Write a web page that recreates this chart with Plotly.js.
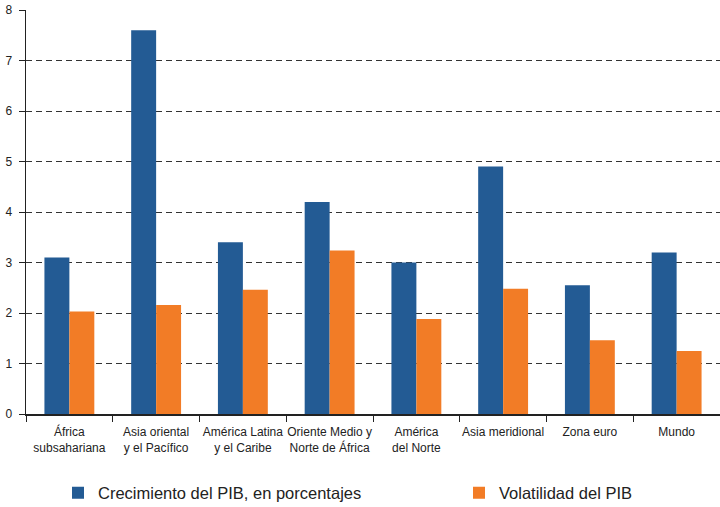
<!DOCTYPE html>
<html><head><meta charset="utf-8">
<script src="https://cdn.plot.ly/plotly-3.0.1.min.js"></script>
<style>html,body{margin:0;padding:0;background:#fff}#c{width:720px;height:507px}</style>
</head><body><div id="c"></div>
<script>
const categories = ["África<br>subsahariana","Asia oriental<br>y el Pacífico","América Latina<br>y el Caribe","Oriente Medio y<br>Norte de África","América<br>del Norte","Asia meridional","Zona euro","Mundo"];
const crecimiento = [3.1, 7.6, 3.4, 4.2, 3.0, 4.9, 2.55, 3.2];
const volatilidad = [2.03, 2.16, 2.46, 3.24, 1.88, 2.48, 1.46, 1.25];
const yTicks = [0,1,2,3,4,5,6,7,8];

const font = "Liberation Sans, Arial, sans-serif";
const data = [
  {type:"bar", x:categories, y:crecimiento, name:"Crecimiento del PIB, en porcentajes", marker:{color:"#235B94"}, legend:"legend"},
  {type:"bar", x:categories, y:volatilidad, name:"Volatilidad del PIB", marker:{color:"#F27C26"}, legend:"legend2"}
];
const legFont = {size:16.5, family:font, color:"#222"};
const layout = {
  width:720, height:507,
  margin:{l:26, r:0, t:10, b:93, autoexpand:false},
  paper_bgcolor:"#fff", plot_bgcolor:"#fff",
  font:{family:font, size:11, color:"#222"},
  barmode:"group", bargap:0.425, bargroupgap:0,
  xaxis:{tickson:"boundaries", ticks:"outside", ticklen:6, tickcolor:"#222", showline:true, linecolor:"#222", linewidth:1.5,
         tickangle:0, automargin:false, ticklabelstandoff:6,
         showgrid:false, tickfont:{size:12, family:font, color:"#222"}, fixedrange:true},
  yaxis:{range:[0,8], tickvals:yTicks, ticks:"outside", ticklen:6, tickcolor:"#222", showline:true, linecolor:"#222", linewidth:1.5,
         showgrid:true, gridcolor:"#333", gridwidth:1, griddash:"6px,4px", zeroline:false, automargin:false,
         tickfont:{size:12, family:font, color:"#222"}, ticklabelstandoff:4},
  showlegend:true,
  legend:{orientation:"h", xref:"container", yref:"container", x:58/720, xanchor:"left", y:1-493/507, yanchor:"middle", font:legFont, bgcolor:"rgba(0,0,0,0)"},
  legend2:{orientation:"h", xref:"container", yref:"container", x:459/720, xanchor:"left", y:1-493/507, yanchor:"middle", font:legFont, bgcolor:"rgba(0,0,0,0)"}
};
Plotly.newPlot("c", data, layout, {displayModeBar:false, staticPlot:true});
</script></body></html>
